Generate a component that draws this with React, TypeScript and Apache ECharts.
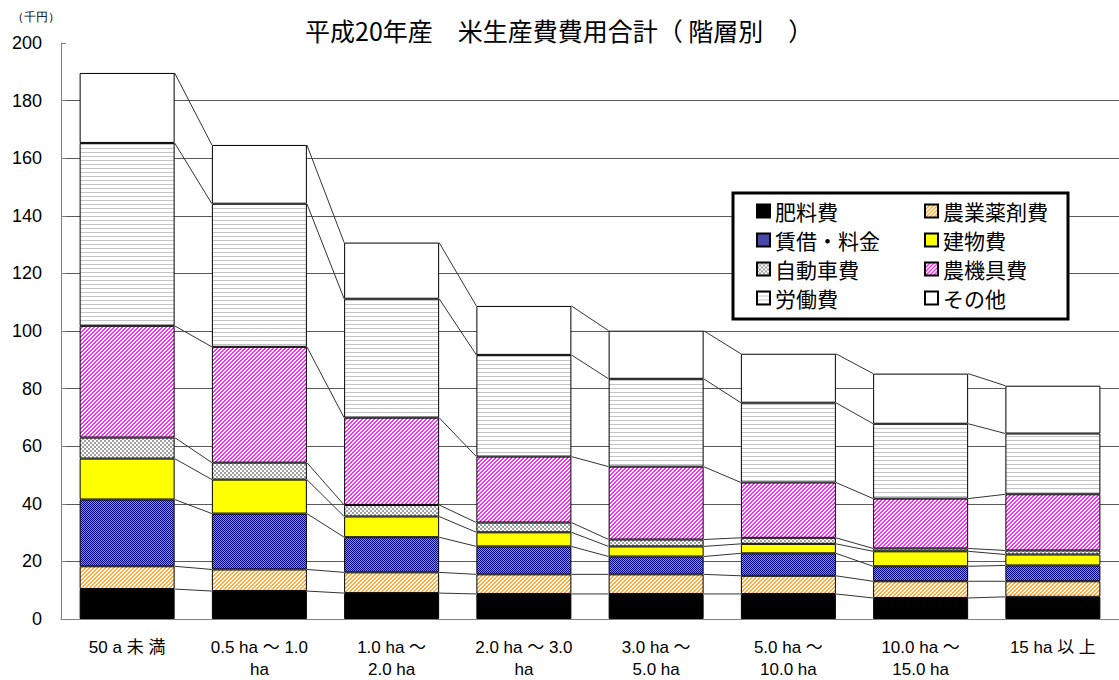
import React, { useEffect, useRef } from "react";
import * as echarts from "echarts";

const categories = [
  "50 a 未 満",
  "0.5 ha ～ 1.0\nha",
  "1.0 ha ～\n2.0 ha",
  "2.0 ha ～ 3.0\nha",
  "3.0 ha ～\n5.0 ha",
  "5.0 ha ～\n10.0 ha",
  "10.0 ha ～\n15.0 ha",
  "15 ha 以 上",
];

const seriesNames = ["肥料費", "農業薬剤費", "賃借・料金", "建物費", "自動車費", "農機具費", "労働費", "その他"];

const fertilizer = [10.4, 9.7, 9.0, 8.7, 8.7, 8.7, 7.3, 7.7];
const agChemicals = [7.9, 7.5, 7.2, 6.8, 6.8, 6.3, 5.8, 5.4];
const rental = [23.2, 19.4, 12.2, 9.7, 6.2, 7.8, 5.2, 5.5];
const buildings = [14.2, 11.8, 7.2, 4.9, 3.5, 3.3, 5.2, 3.8];
const vehicles = [7.3, 5.9, 4.0, 3.4, 2.4, 2.1, 1.0, 1.4];
const machinery = [38.8, 40.2, 30.3, 22.9, 25.3, 19.2, 17.3, 19.5];
const labor = [63.5, 49.7, 41.3, 35.3, 30.5, 27.7, 26.0, 21.1];
const others = [24.3, 20.4, 19.5, 17.0, 16.7, 17.0, 17.4, 16.6];

const yTicks = { min: 0, max: 200, interval: 20 };

const BAR_W = 95;
const CJK = "'Noto Sans CJK JP', 'Noto Sans', sans-serif";
const LATIN_FIRST = "'Liberation Sans', 'Noto Sans CJK JP', sans-serif";

function makePattern(w: number, h: number, draw: (ctx: CanvasRenderingContext2D) => void) {
  const c = document.createElement("canvas");
  c.width = w;
  c.height = h;
  const ctx = c.getContext("2d") as CanvasRenderingContext2D;
  ctx.fillStyle = "#ffffff";
  ctx.fillRect(0, 0, w, h);
  draw(ctx);
  return { image: c.toDataURL(), repeat: "repeat", imageWidth: w, imageHeight: h } as any;
}

function diag(color: string) {
  return makePattern(4, 4, (ctx) => {
    ctx.fillStyle = color;
    for (let y = 0; y < 4; y++)
      for (let x = 0; x < 4; x++) if ((x + y) % 4 < 2) ctx.fillRect(x, y, 1, 1);
  });
}

export default function App() {
  const ref = useRef<HTMLDivElement>(null);
  useEffect(() => {
    document.body.style.margin = "0";
    const st = document.createElement("style");
    st.textContent = "svg image { image-rendering: pixelated; }";
    document.head.appendChild(st);
    const chart = echarts.init(ref.current as HTMLDivElement, undefined, { renderer: "svg" });

    const fills: any[] = [
      "#000000",
      diag("#FFA834"),
      makePattern(2, 2, (ctx) => {
        ctx.fillStyle = "#9090D0";
        ctx.fillRect(0, 0, 2, 2);
        ctx.fillStyle = "#000080";
        ctx.fillRect(0, 0, 1, 1);
        ctx.fillRect(1, 1, 1, 1);
      }),
      "#FFFF00",
      makePattern(4, 4, (ctx) => {
        ctx.fillStyle = "#a0a0a0";
        ctx.fillRect(0, 0, 2, 2);
        ctx.fillRect(2, 2, 2, 2);
      }),
      diag("#FF2CFF"),
      makePattern(1, 4, (ctx) => {
        ctx.fillStyle = "#c4c4c4";
        ctx.fillRect(0, 0, 1, 1);
      }),
      "#ffffff",
    ];

    const values = [fertilizer, agChemicals, rental, buildings, vehicles, machinery, labor, others];
    const cumulative: number[][] = [];
    values.forEach((arr, k) => {
      cumulative.push(arr.map((v, i) => (k === 0 ? 0 : cumulative[k - 1][i]) + v));
    });

    const barSeries = values.map((arr, k) => ({
      name: seriesNames[k],
      type: "bar",
      stack: "total",
      barWidth: BAR_W,
      data: arr,
      itemStyle: { color: fills[k], borderColor: "#000", borderWidth: 1 },
      emphasis: { disabled: true },
    }));

    const seriesLines = {
      type: "custom",
      silent: true,
      z: 1,
      data: categories.slice(0, -1).map((_, i) => [i, 0]),
      encode: { x: 0, y: 1 },
      renderItem: (params: any, api: any) => {
        const i = api.value(0);
        const children = cumulative.map((cum) => {
          const p0 = api.coord([i, cum[i]]);
          const p1 = api.coord([i + 1, cum[i + 1]]);
          return {
            type: "line",
            shape: { x1: p0[0] + BAR_W / 2, y1: p0[1], x2: p1[0] - BAR_W / 2, y2: p1[1] },
            style: { stroke: "#333", lineWidth: 1 },
          };
        });
        return { type: "group", children };
      },
    };

    const legendCommon = {
      orient: "vertical",
      top: 200,
      padding: 0,
      itemGap: 7,
      itemWidth: 13,
      itemHeight: 13,
      icon: "rect",
      selectedMode: false,
      z: 5,
      textStyle: { fontSize: 21, lineHeight: 22, color: "#000", fontFamily: CJK },
    };

    chart.setOption({
      animation: false,
      title: {
        text: "平成20年産　米生産費費用合計（ 階層別　）",
        left: 300,
        top: 12,
        textStyle: { fontSize: 25, fontWeight: "normal", color: "#000", fontFamily: CJK },
      },
      graphic: [
        {
          type: "text",
          left: 12,
          top: 11,
          style: { text: "（千円）", fontSize: 12, fill: "#000", font: `12px ${CJK}` },
        },
        {
          type: "rect",
          z: 3,
          shape: { x: 733, y: 193, width: 335, height: 126 },
          style: { fill: "#fff", stroke: "#000", lineWidth: 3 },
        },
      ],
      legend: [
        { ...legendCommon, left: 756, data: [seriesNames[0], seriesNames[2], seriesNames[4], seriesNames[6]] },
        { ...legendCommon, left: 924, data: [seriesNames[1], seriesNames[3], seriesNames[5], seriesNames[7]] },
      ],
      grid: { left: 61, right: -4, top: 43, bottom: 60, containLabel: false },
      xAxis: {
        type: "category",
        data: categories,
        axisLine: { show: true, lineStyle: { color: "#808080", width: 1 } },
        axisTick: { show: false },
        axisLabel: {
          interval: 0,
          margin: 17,
          fontSize: 17,
          lineHeight: 22,
          color: "#000",
          fontFamily: LATIN_FIRST,
        },
      },
      yAxis: {
        type: "value",
        min: yTicks.min,
        max: yTicks.max,
        interval: yTicks.interval,
        axisLine: { show: true, lineStyle: { color: "#808080", width: 1 } },
        axisTick: { show: true, inside: true, length: 5, lineStyle: { color: "#808080" } },
        axisLabel: { fontSize: 18, color: "#000", margin: 19, fontFamily: "'Liberation Sans', Arial, sans-serif" },
        splitLine: { show: true, showMaxLine: false, lineStyle: { color: "#5a5a5a", width: 1 } },
      },
      series: [...barSeries, seriesLines],
    } as any);

    return () => {
      chart.dispose();
      st.remove();
    };
  }, []);

  return (
    <div
      ref={ref}
      style={{ position: "fixed", left: 0, top: 0, width: 1119, height: 680, background: "#fff" }}
    />
  );
}
